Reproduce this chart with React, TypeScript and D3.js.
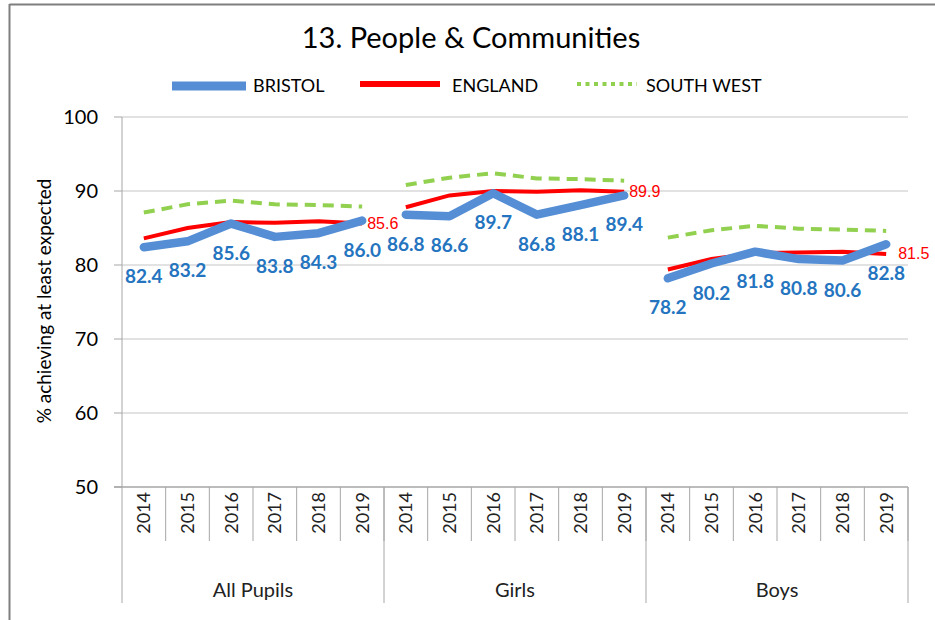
import * as React from 'react';
import * as d3 from 'd3';

const title = '13. People & Communities';
const groups = ['All Pupils', 'Girls', 'Boys'];
const years = ['2014', '2015', '2016', '2017', '2018', '2019'];
const bristol = [
  [82.4, 83.2, 85.6, 83.8, 84.3, 86.0],
  [86.8, 86.6, 89.7, 86.8, 88.1, 89.4],
  [78.2, 80.2, 81.8, 80.8, 80.6, 82.8],
];
const england = [
  [83.6, 85.0, 85.8, 85.7, 85.9, 85.6],
  [87.8, 89.4, 90.0, 89.9, 90.1, 89.9],
  [79.4, 80.8, 81.6, 81.7, 81.8, 81.5],
];
const southWest = [
  [87.1, 88.2, 88.7, 88.2, 88.1, 87.9],
  [90.8, 91.8, 92.4, 91.7, 91.6, 91.4],
  [83.7, 84.7, 85.3, 84.9, 84.8, 84.6],
];
const yTicks = [50, 60, 70, 80, 90, 100];

const W = 935;
const H = 620;
const FONT = "Lato, 'Open Sans', sans-serif";
const BLUE = '#558ED5';
const LABEL_BLUE = '#2474C0';
const RED = '#FF0000';
const GREEN = '#92D050';

const keys = groups.flatMap((g) => years.map((y) => `${g}|${y}`));
const x = d3.scaleBand<string>().domain(keys).range([122, 908]).padding(0);
const y = d3.scaleLinear().domain([50, 100]).range([487, 117]);

const cx = (gi: number, yi: number) =>
  (x(`${groups[gi]}|${years[yi]}`) as number) + x.bandwidth() / 2;

const line = d3
  .line<[number, number]>()
  .x((d) => d[0])
  .y((d) => d[1]);

function seriesPath(values: number[], gi: number): string {
  return line(values.map((v, i) => [cx(gi, i), y(v)])) || '';
}

export default function App() {
  const bw = x.bandwidth();
  const left = x.range()[0];
  const right = x.range()[1];

  return (
    <svg
      width={W}
      height={H}
      style={{ position: 'absolute', left: 0, top: 0, background: '#fff' }}
      fontFamily={FONT}
    >
      {/* chart frame */}
      <line x1={9.5} x2={W} y1={4.5} y2={4.5} stroke="#7F7F7F" strokeWidth={2} />
      <line x1={9.5} x2={9.5} y1={4} y2={H} stroke="#7F7F7F" strokeWidth={2} />

      <text x={471} y={48} textAnchor="middle" fontSize={29} fill="#000">
        {title}
      </text>

      {/* legend */}
      <g>
        <rect x={172} y={81.5} width={74} height={9} fill={BLUE} />
        <text x={253} y={92} fontSize={18} fill="#000">BRISTOL</text>
        <rect x={360} y={81} width={80} height={6} fill={RED} />
        <text x={452} y={92} fontSize={18} fill="#000">ENGLAND</text>
        <line
          x1={577}
          x2={637}
          y1={84}
          y2={84}
          stroke={GREEN}
          strokeWidth={4}
          strokeDasharray="4,4.5"
        />
        <text x={646} y={92} fontSize={18} fill="#000">SOUTH WEST</text>
      </g>

      {/* gridlines + y axis */}
      {yTicks.map((t) => (
        <g key={t}>
          {t > 50 && (
            <line x1={left} x2={right} y1={y(t)} y2={y(t)} stroke="#D9D9D9" strokeWidth={1.5} />
          )}
          <line x1={114} x2={left} y1={y(t)} y2={y(t)} stroke="#A6A6A6" strokeWidth={1} />
          <text x={98} y={y(t) + 7} textAnchor="end" fontSize={20} fill="#000">
            {t}
          </text>
        </g>
      ))}
      <line x1={left} x2={left} y1={117} y2={603} stroke="#A6A6A6" strokeWidth={1} />
      <line x1={114} x2={right} y1={y(50)} y2={y(50)} stroke="#A6A6A6" strokeWidth={1.5} />

      <text
        transform={`translate(51, 301) rotate(-90)`}
        textAnchor="middle"
        fontSize={19}
        fill="#000"
      >
        % achieving at least expected
      </text>

      {/* x axis: years and groups */}
      {keys.map((k, i) => {
        const x0 = x(k) as number;
        const c = x0 + bw / 2;
        return (
          <g key={k}>
            <line x1={x0 + bw} x2={x0 + bw} y1={487} y2={541} stroke="#A6A6A6" strokeWidth={1} />
            <text
              transform={`translate(${c + 6.5}, 492) rotate(-90)`}
              textAnchor="end"
              fontSize={18}
              fill="#222"
            >
              {years[i % years.length]}
            </text>
          </g>
        );
      })}
      {groups.map((g, gi) => {
        const gx0 = x(`${g}|${years[0]}`) as number;
        const gx1 = (x(`${g}|${years[years.length - 1]}`) as number) + bw;
        return (
          <g key={g}>
            <line x1={gx1} x2={gx1} y1={487} y2={603} stroke="#A6A6A6" strokeWidth={1} />
            <text x={(gx0 + gx1) / 2} y={597} textAnchor="middle" fontSize={20} fill="#222">
              {g}
            </text>
          </g>
        );
      })}

      {/* series */}
      {groups.map((g, gi) => (
        <g key={g}>
          <path
            d={seriesPath(southWest[gi], gi)}
            fill="none"
            stroke={GREEN}
            strokeWidth={4}
            strokeDasharray="11,7"
          />
          <path d={seriesPath(england[gi], gi)} fill="none" stroke={RED} strokeWidth={4} />
          <path
            d={seriesPath(bristol[gi], gi)}
            fill="none"
            stroke={BLUE}
            strokeWidth={8.5}
            strokeLinecap="round"
            strokeLinejoin="round"
          />
        </g>
      ))}

      {/* labels */}
      {groups.map((g, gi) => (
        <g key={g}>
          {bristol[gi].map((v, i) => (
            <text
              key={i}
              x={cx(gi, i)}
              y={y(v) + 36}
              textAnchor="middle"
              fontSize={19}
              fontWeight="bold"
              fill={LABEL_BLUE}
            >
              {v.toFixed(1)}
            </text>
          ))}
          <text
            x={cx(gi, years.length - 1) + (gi === 2 ? 12 : 5)}
            y={y(england[gi][years.length - 1]) + 5.5}
            fontSize={16}
            fontFamily="'Liberation Sans Narrow', 'Liberation Sans', sans-serif"
            fill={RED}
          >
            {england[gi][years.length - 1].toFixed(1)}
          </text>
        </g>
      ))}
    </svg>
  );
}
